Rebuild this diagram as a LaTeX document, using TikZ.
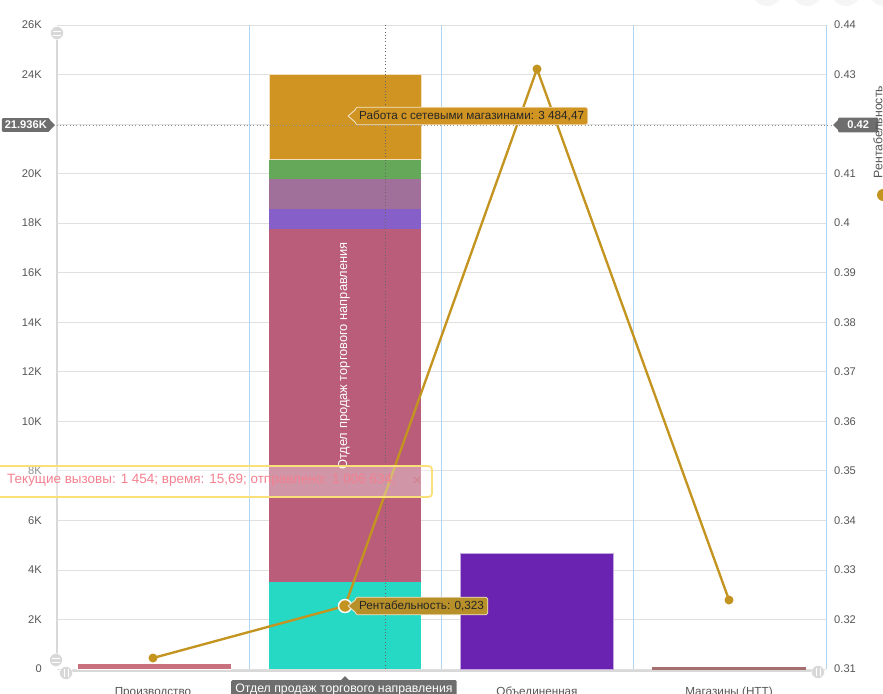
\documentclass[tikz,border=0pt]{standalone}
\usepackage{fontspec}
\setmainfont{Liberation Sans}

\definecolor{gridgray}{HTML}{E0E0E0}
\definecolor{catblue}{HTML}{AFD5F3}
\definecolor{axisgray}{HTML}{D8D8D8}
\definecolor{ticktext}{HTML}{555555}
\definecolor{rentgold}{HTML}{C3941F}
\definecolor{tipgold}{HTML}{B8902A}
\definecolor{barorange}{HTML}{D09423}
\definecolor{bargreen}{HTML}{65A85A}
\definecolor{barmauve}{HTML}{A06F9A}
\definecolor{barviolet}{HTML}{8660C8}
\definecolor{barrose}{HTML}{B95D7A}
\definecolor{barteal}{HTML}{26D9C4}
\definecolor{barpurple}{HTML}{6A23B0}
\definecolor{barpink}{HTML}{C9707F}
\definecolor{barbrown}{HTML}{A56F6F}
\definecolor{tipgray}{HTML}{6E6E6E}
\definecolor{overlaypink}{HTML}{F3808F}
\definecolor{overlayyellow}{HTML}{FBE07A}

\tikzset{
  ticklabel/.style={text=ticktext, font=\fontsize{9.5}{10}\selectfont, inner sep=0pt},
  goldtip/.style={fill=#1, draw=white!75!#1, rounded corners=1.5pt, line width=0.6pt,
    text=black!85, font=\fontsize{10}{11}\selectfont, inner sep=3.2pt, anchor=west},
  graytip/.style={fill=tipgray, text=white, font=\fontsize{10.5}{11}\selectfont,
    inner sep=3pt, rounded corners=1pt},
  handle/.style={fill=axisgray, draw=white, line width=0.4pt},
  rentdot/.style={fill=rentgold, draw=none}
}

\begin{document}
\begin{tikzpicture}[x=0.03cm,y=-0.03cm]
  \useasboundingbox (0,0) rectangle (883,694);
  \clip (0,0) rectangle (883,694);

  % buttons cut off at the top
  \fill[gray!8] (767,-9) circle (15) (807,-9) circle (15) (846,-9) circle (15) (884,-9) circle (15);

  % grid and axis labels
  \foreach \k/\lft/\rgt in {0/0/0.31,1/2K/0.32,2/4K/0.33,3/6K/0.34,4/8K/0.35,5/10K/0.36,6/12K/0.37,
      7/14K/0.38,8/16K/0.39,9/18K/0.4,10/20K/0.41,11/22K/0.42,12/24K/0.43,13/26K/0.44} {
    \draw[gridgray, line width=0.6pt] (57,669-49.54*\k) -- (826,669-49.54*\k);
    \ifnum\k=11 \else
      \node[ticklabel, anchor=east] (l\k) at (42,669-49.54*\k) {\lft};
      \node[ticklabel, anchor=west] (r\k) at (834,669-49.54*\k) {\rgt};
    \fi
  }

  % category borders
  \draw[catblue, line width=0.7pt] (249,25) -- (249,669);
  \draw[catblue, line width=0.7pt] (441,25) -- (441,669);
  \draw[catblue, line width=0.7pt] (633,25) -- (633,669);
  \draw[catblue, line width=0.7pt] (826,25) -- (826,669);

  % bars
  \filldraw[fill=barpink, draw=white] (77,663) rectangle (231,669);

  \filldraw[fill=barteal, draw=none] (269,582) rectangle (421,669);
  \filldraw[fill=barrose, draw=none] (269,229) rectangle (421,582);
  \filldraw[fill=barviolet, draw=none] (269,209) rectangle (421,229);
  \filldraw[fill=barmauve, draw=none] (269,179) rectangle (421,209);
  \filldraw[fill=bargreen, draw=none] (269,160) rectangle (421,179);
  \filldraw[fill=barorange, draw=white!70!barorange, line width=0.6pt] (269,74) rectangle (421,159);

  \filldraw[fill=barpurple, draw=white!60!barpurple, line width=0.4pt] (460,553) rectangle (613,669);

  \filldraw[fill=barbrown, draw=none] (652,667) rectangle (806,669.5);

  \node[rotate=90, text=white, font=\fontsize{11}{12}\selectfont] (barname) at (344,356)
    {Отдел продаж торгового направления};

  % axes with scroll handles
  \draw[axisgray, line width=2.2pt] (57,33) -- (57,662);
  \draw[axisgray, line width=2.2pt] (62,671) -- (818,671);
  \filldraw[handle] (57,33) circle (6.5);
  \draw[white, line width=0.6pt] (53,31) -- (61,31) (53,35) -- (61,35);
  \filldraw[handle] (56,660) circle (6.5);
  \draw[white, line width=0.6pt] (52,658) -- (60,658) (52,662) -- (60,662);
  \filldraw[handle] (66,673) circle (6.5);
  \draw[white, line width=0.6pt] (64,669) -- (64,677) (68,669) -- (68,677);
  \filldraw[handle] (818,672) circle (6.5);
  \draw[white, line width=0.6pt] (816,668) -- (816,676) (820,668) -- (820,676);

  % crosshair
  \draw[black!60, dotted, line width=0.8pt] (385,25) -- (385,669);
  \draw[black!45, dotted, line width=0.8pt] (50,125) -- (836,125);

  \node[graytip, font=\fontsize{9.5}{10}\selectfont\bfseries, anchor=east, inner sep=2.5pt] (ylabel) at (50,125) {21.936K};
  \fill[tipgray] (ylabel.east) ++(0,-5) -- ++(5,5) -- ++(-5,5) -- cycle;
  \node[graytip, font=\fontsize{9.5}{10}\selectfont\bfseries, anchor=west, minimum width=40*0.03cm] (rlabel) at (838,125) {0.42};
  \fill[tipgray] (rlabel.west) ++(0,-5) -- ++(-5,5) -- ++(5,5) -- cycle;

  % profitability line
  \coordinate (p1) at (153,658);
  \coordinate (p2) at (345,606);
  \coordinate (p3) at (537,69);
  \coordinate (p4) at (729,600);
  \draw[rentgold, line width=2pt, line join=round] (p1) -- (p2) -- (p3) -- (p4);
  \fill[rentdot] (p1) circle (4.5);
  \fill[rentdot] (p3) circle (4.5);
  \fill[rentdot] (p4) circle (4.5);
  \filldraw[fill=rentgold, draw=white, line width=1.2pt] (p2) circle (6.5);

  % tooltips
  \node[goldtip=barorange] (worktip) at (355,116) {Работа с сетевыми магазинами: 3 484,47};
  \fill[white!75!barorange] (worktip.west) ++(0.5,-7) -- ++(-8,7) -- ++(8,7) -- cycle;
  \fill[barorange] (worktip.west) ++(1,-6) -- ++(-7,6) -- ++(7,6) -- cycle;

  \node[goldtip=tipgold] (renttip) at (355,606) {Рентабельность: 0,323};
  \fill[white!75!tipgold] (renttip.west) ++(0.5,-7) -- ++(-8,7) -- ++(8,7) -- cycle;
  \fill[tipgold] (renttip.west) ++(1,-6) -- ++(-7,6) -- ++(7,6) -- cycle;

  % overlay with current calls
  \filldraw[fill=white, fill opacity=0.35, draw=overlayyellow, line width=1.6pt, rounded corners=3pt]
    (-6,466) rectangle (432,497);
  \node[anchor=west, text=overlaypink, font=\fontsize{11.5}{12}\selectfont, inner sep=0pt] (calls) at (7,480)
    {Текущие вызовы: 1 454; время: 15,69; отправлено: 1 006 634;};
  \node[text=overlaypink!70!gray, font=\fontsize{13}{13}\selectfont, inner sep=0pt] (closex) at (417,481) {×};

  % category labels
  \node[text=ticktext, font=\fontsize{10}{11}\selectfont, anchor=north, inner sep=0pt] (cat1) at (153,687) {Производство};
  \node[graytip, anchor=north west, inner sep=3.5pt] (cat2) at (231,680) {Отдел продаж торгового направления};
  \fill[tipgray] (345,676) -- (340,681) -- (350,681) -- cycle;
  \node[text=ticktext, font=\fontsize{10}{11}\selectfont, anchor=north, inner sep=0pt] (cat3) at (537,687) {Объединенная};
  \node[text=ticktext, font=\fontsize{10}{11}\selectfont, anchor=north, inner sep=0pt] (cat4) at (729,687) {Магазины (НТТ)};

  % right axis title and legend mark
  \node[rotate=90, text=ticktext, font=\fontsize{10.5}{11}\selectfont, anchor=north, inner sep=0pt] (ytitle) at (873,132) {Рентабельность};
  \fill[rentgold] (883,195) circle (6);
\end{tikzpicture}
\end{document}
